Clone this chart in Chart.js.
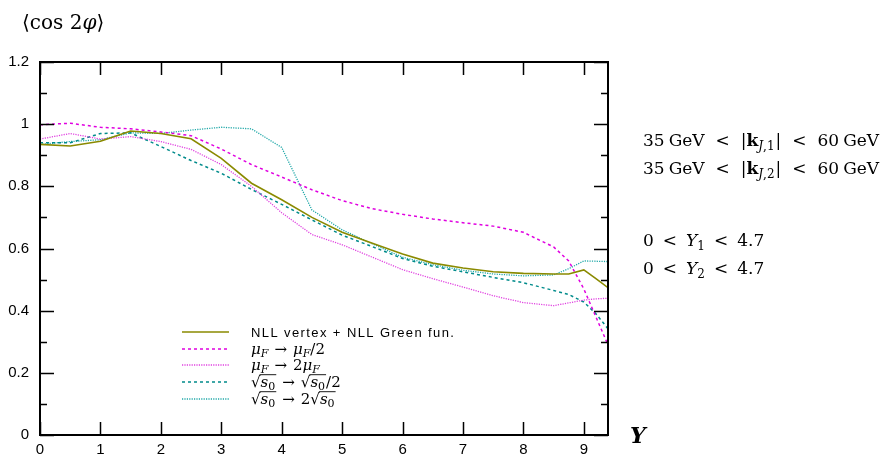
<!DOCTYPE html>
<html lang="en">
<head>
<meta charset="UTF-8">
<title>cos 2phi vs Y</title>
<script src="https://cdn.jsdelivr.net/npm/chart.js"></script>
<style>
  body { margin: 0; background: #fff; }
</style>
</head>
<body>
<canvas id="myChart" width="888" height="460"></canvas>
<script>
    // rapidity grid (x axis)
    const xs = [0, 0.5, 1, 1.5, 2, 2.5, 3, 3.5, 4, 4.5, 5, 5.5, 6, 6.5, 7, 7.5, 8, 8.5, 8.75, 9, 9.2, 9.4];

    // series values
    const nllMain = [0.935, 0.93, 0.945, 0.978, 0.97, 0.953, 0.89, 0.81, 0.757, 0.70, 0.652, 0.617, 0.582, 0.553, 0.537, 0.525, 0.52, 0.518, 0.518, 0.531, 0.503, 0.474];
    const muHalf  = [0.998, 1.003, 0.99, 0.985, 0.975, 0.963, 0.92, 0.87, 0.83, 0.789, 0.754, 0.728, 0.71, 0.695, 0.683, 0.672, 0.652, 0.605, 0.56, 0.47, 0.38, 0.29];
    const muTwice = [0.952, 0.97, 0.952, 0.96, 0.944, 0.919, 0.87, 0.80, 0.715, 0.645, 0.612, 0.572, 0.532, 0.503, 0.476, 0.448, 0.426, 0.416, 0.425, 0.434, 0.438, 0.44];
    const s0Half  = [0.94, 0.94, 0.97, 0.972, 0.928, 0.883, 0.842, 0.79, 0.742, 0.692, 0.643, 0.606, 0.568, 0.543, 0.525, 0.507, 0.49, 0.465, 0.452, 0.428, 0.39, 0.342];
    const s0Twice = [0.935, 0.944, 0.95, 0.972, 0.97, 0.981, 0.99, 0.985, 0.925, 0.724, 0.66, 0.615, 0.572, 0.548, 0.53, 0.518, 0.512, 0.515, 0.535, 0.56, 0.559, 0.558];

    const seriesNames = ['NLL vertex + NLL Green fun.', 'μF → μF/2', 'μF → 2μF', '√s0 → √s0/2', '√s0 → 2√s0'];
    const xTicks = [0, 1, 2, 3, 4, 5, 6, 7, 8, 9];
    const yMajor = [0, 0.2, 0.4, 0.6, 0.8, 1, 1.2];
    const yMinor = [0.1, 0.3, 0.5, 0.7, 0.9, 1.1];

    const serif = '"DejaVu Serif", "Liberation Serif", serif';
    const sans = '"Liberation Sans", Arial, sans-serif';

    const styles = [
        { color: '#8a8a00', dash: [], width: 1.6 },
        { color: '#e000e0', dash: [3, 3], width: 1.5 },
        { color: '#e040e0', dash: [1.2, 1.2], width: 1.3 },
        { color: '#008b8b', dash: [3, 3], width: 1.5 },
        { color: '#20a8a8', dash: [1.2, 1.2], width: 1.3 }
    ];
    const allValues = [nllMain, muHalf, muTwice, s0Half, s0Twice];

    function pts(vals) {
        return xs.map((x, i) => ({ x: x, y: vals[i] }));
    }

    // draw a row of math-ish text pieces
    function drawRich(ctx, x, y, parts, size) {
        let cx = x;
        for (const p of parts) {
            if (p.f === 'sqrt') {
                ctx.font = size + 'px ' + serif;
                ctx.fillText('√', cx, y);
                cx += ctx.measureText('√').width;
                const start = cx;
                ctx.font = 'italic ' + size + 'px ' + serif;
                ctx.fillText('s', cx, y);
                cx += ctx.measureText('s').width;
                ctx.font = Math.round(size * 0.7) + 'px ' + serif;
                ctx.fillText('0', cx, y + size * 0.22);
                cx += ctx.measureText('0').width + 1;
                ctx.beginPath();
                ctx.lineWidth = 0.9;
                ctx.moveTo(start - 1, y - size * 0.82);
                ctx.lineTo(cx, y - size * 0.82);
                ctx.stroke();
                cx += (p.gap || 0);
                continue;
            }
            let f = size + 'px ' + serif, dy = 0;
            if (p.f === 'i') f = 'italic ' + size + 'px ' + serif;
            if (p.f === 'b') f = 'bold ' + size + 'px ' + serif;
            if (p.f === 'bi') f = 'bold italic ' + size + 'px ' + serif;
            if (p.f === 'si') { f = 'italic ' + Math.round(size * 0.7) + 'px ' + serif; dy = size * 0.22; }
            if (p.f === 'sr') { f = Math.round(size * 0.7) + 'px ' + serif; dy = size * 0.22; }
            ctx.font = f;
            cx += (p.pre || 0);
            ctx.fillText(p.t, cx, y + dy);
            cx += ctx.measureText(p.t).width + (p.gap || 0);
        }
        return cx;
    }

    const arrow = { t: '→', f: 'r', pre: 6, gap: 6 };
    const legendParts = [
        null,
        [{ t: 'μ', f: 'i' }, { t: 'F', f: 'si' }, arrow, { t: 'μ', f: 'i' }, { t: 'F', f: 'si' }, { t: '/2', f: 'r' }],
        [{ t: 'μ', f: 'i' }, { t: 'F', f: 'si' }, arrow, { t: '2', f: 'r' }, { t: 'μ', f: 'i' }, { t: 'F', f: 'si' }],
        [{ f: 'sqrt' }, arrow, { f: 'sqrt' }, { t: '/2', f: 'r' }],
        [{ f: 'sqrt' }, arrow, { t: '2', f: 'r' }, { f: 'sqrt' }]
    ];

    const decor = {
        id: 'decor',
        afterDraw(chart) {
            const ctx = chart.ctx, a = chart.chartArea;
            const sx = chart.scales.x, sy = chart.scales.y;
            ctx.save();
            ctx.strokeStyle = '#000';
            ctx.fillStyle = '#000';
            // frame
            ctx.lineWidth = 2;
            ctx.strokeRect(a.left, a.top, a.right - a.left, a.bottom - a.top);
            // inward ticks
            ctx.lineWidth = 1.5;
            ctx.beginPath();
            xTicks.forEach(v => {
                const px = Math.round(sx.getPixelForValue(v)) + 0.5;
                ctx.moveTo(px, a.bottom); ctx.lineTo(px, a.bottom - 13);
                ctx.moveTo(px, a.top); ctx.lineTo(px, a.top + 13);
            });
            yMajor.forEach(v => {
                const py = Math.round(sy.getPixelForValue(v)) + 0.5;
                ctx.moveTo(a.left, py); ctx.lineTo(a.left + 14, py);
                ctx.moveTo(a.right, py); ctx.lineTo(a.right - 14, py);
            });
            yMinor.forEach(v => {
                const py = Math.round(sy.getPixelForValue(v)) + 0.5;
                ctx.moveTo(a.left, py); ctx.lineTo(a.left + 7, py);
                ctx.moveTo(a.right, py); ctx.lineTo(a.right - 7, py);
            });
            ctx.stroke();

            // legend
            const rows = [332, 349, 365, 382, 399];
            rows.forEach((ry, i) => {
                const st = styles[i];
                ctx.beginPath();
                ctx.strokeStyle = st.color;
                ctx.lineWidth = st.width;
                ctx.setLineDash(st.dash);
                ctx.moveTo(182, ry); ctx.lineTo(229, ry);
                ctx.stroke();
                ctx.setLineDash([]);
                ctx.strokeStyle = '#000';
                ctx.textBaseline = 'alphabetic';
                if (i === 0) {
                    ctx.font = '13px ' + sans;
                    ctx.letterSpacing = '1.4px';
                    ctx.fillText(seriesNames[0], 251, ry + 5);
                    ctx.letterSpacing = '0px';
                } else {
                    drawRich(ctx, 251, ry + 5, legendParts[i], 15);
                }
            });

            // title
            drawRich(ctx, 22, 29, [{ t: '⟨cos 2', f: 'r' }, { t: 'φ', f: 'i' }, { t: '⟩', f: 'r' }], 20);
            // axis name
            drawRich(ctx, 630, 443, [{ t: 'Y', f: 'bi' }], 22);

            // cuts text
            const kRow = (sub, y) => drawRich(ctx, 643, y, [
                { t: '35', f: 'r', gap: 4 }, { t: 'GeV', f: 'r', gap: 11 }, { t: '<', f: 'r', gap: 11 },
                { t: '|', f: 'r' }, { t: 'k', f: 'b' }, { t: 'J', f: 'si' }, { t: ',' + sub, f: 'sr', gap: 1 },
                { t: '|', f: 'r', gap: 11 }, { t: '<', f: 'r', gap: 11 }, { t: '60', f: 'r', gap: 4 }, { t: 'GeV', f: 'r' }], 17);
            kRow('1', 146);
            kRow('2', 174);
            const yRow = (sub, y) => drawRich(ctx, 643, y, [
                { t: '0', f: 'r', gap: 9 }, { t: '<', f: 'r', gap: 9 }, { t: 'Y', f: 'i' }, { t: sub, f: 'sr', gap: 9 },
                { t: '<', f: 'r', gap: 9 }, { t: '4.7', f: 'r' }], 17);
            yRow('1', 246);
            yRow('2', 274);
            ctx.restore();
        }
    };

    const ctx = document.getElementById('myChart').getContext('2d');
    const myChart = new Chart(ctx, {
        type: 'line',
        data: {
            datasets: allValues.map((vals, i) => ({
                label: seriesNames[i],
                data: pts(vals),
                borderColor: styles[i].color,
                borderDash: styles[i].dash,
                borderWidth: styles[i].width,
                pointRadius: 0,
                tension: 0,
                fill: false
            }))
        },
        options: {
            responsive: false,
            animation: false,
            layout: { padding: { top: 62, right: 280, left: 0, bottom: 0 } },
            plugins: { legend: { display: false }, tooltip: { enabled: false } },
            scales: {
                x: {
                    type: 'linear', min: 0, max: 9.4,
                    grid: { display: false, drawTicks: false },
                    border: { display: false },
                    ticks: { stepSize: 1, includeBounds: false, maxRotation: 0, color: '#000', padding: 6, font: { family: sans, size: 15 } },
                    afterFit: s => { s.height = 25; }
                },
                y: {
                    min: 0, max: 1.2,
                    grid: { display: false, drawTicks: false },
                    border: { display: false },
                    ticks: {
                        stepSize: 0.2, color: '#000', padding: 11, font: { family: sans, size: 15 },
                        callback: v => String(Math.round(v * 10) / 10)
                    },
                    afterFit: s => { s.width = 40; }
                }
            }
        },
        plugins: [decor]
    });
</script>
</body>
</html>
